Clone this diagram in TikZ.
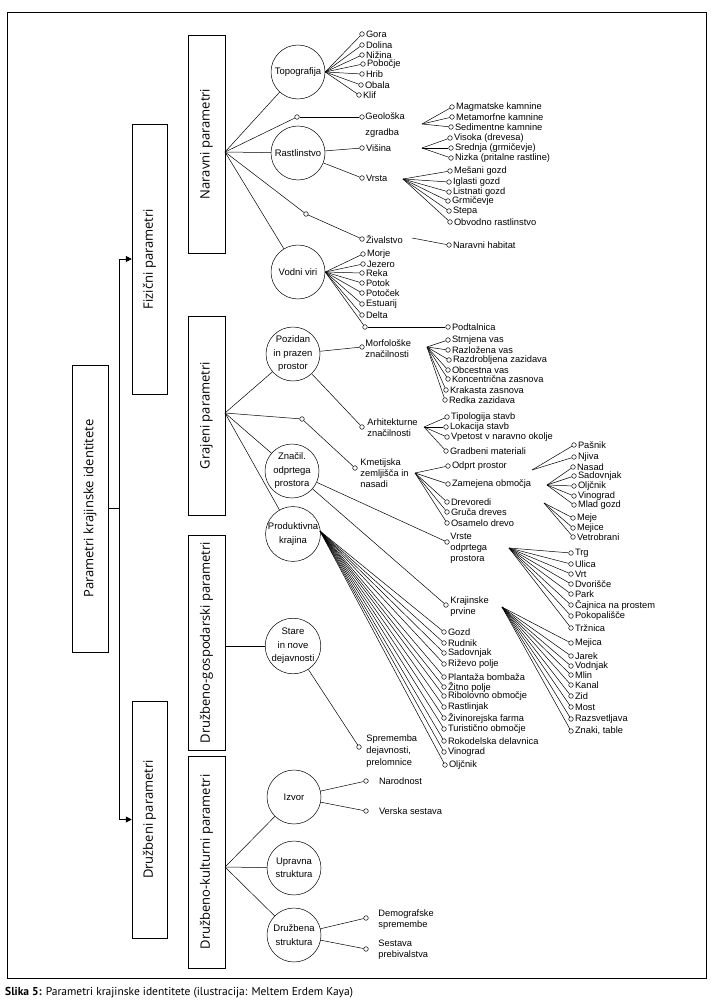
\documentclass[tikz,border=0pt]{standalone}
\usepackage{fontspec}
\setmainfont{Liberation Sans}
\newfontfamily\boxfont{Open Sans}
\newfontfamily\capfont{PT Sans}
\usetikzlibrary{arrows.meta}

\begin{document}
\begin{tikzpicture}[x=1pt,y=-1pt,line width=0.5pt]
\tikzset{
  pbox/.style={draw, rotate=90, inner sep=0pt, font=\boxfont\fontsize{13}{15}\selectfont},
  bigc/.style={circle, draw, minimum size=54, inner sep=0pt, align=center, font=\fontsize{9.5}{13.5}\selectfont},
  dot/.style={circle, draw, fill=white, inner sep=0pt, minimum size=4.6},
  lbl/.style={inner sep=1.2pt, align=left, font=\fontsize{9.3}{11}\selectfont},
  item/.style={dot, label={[lbl]east:#1}},
  faritem/.style={dot, label={[lbl, label distance=9pt]east:#1}}
}
\useasboundingbox (0,0) rectangle (717,1006);
\draw (7,12) rectangle (706,978);
\node[pbox, minimum width=287, minimum height=36] (kraj) at (90,508.5) {Parametri krajinske identitete};
\node[pbox, minimum width=270, minimum height=35] (fiz) at (149.5,259) {Fizični parametri};
\node[pbox, minimum width=237, minimum height=35] (druz) at (149.5,819.5) {Družbeni parametri};
\node[pbox, minimum width=218, minimum height=37] (nar) at (206.5,144) {Naravni parametri};
\node[pbox, minimum width=199, minimum height=37] (graj) at (206.5,415.5) {Grajeni parametri};
\node[pbox, minimum width=215, minimum height=37] (gosp) at (206.5,642.5) {Družbeno-gospodarski parametri};
\node[pbox, minimum width=212, minimum height=37] (kult) at (206.5,862) {Družbeno-kulturni parametri};
\coordinate (split) at (119,508.5);
\draw (kraj.south) -- (split);
\draw[-{Triangle[length=6pt,width=6pt]}] (split) |- (fiz.north);
\draw[-{Triangle[length=6pt,width=6pt]}] (split) |- (druz.north);
% naravni
\coordinate (narF) at (225,152);
\node[bigc] (topo) at (298,72) {Topografija};
\node[bigc] (rast) at (298,153) {Rastlinstvo};
\node[bigc] (vodni) at (298,272) {Vodni viri};
\node[dot] (geo0) at (297,117) {};
\node[dot] (ziv0) at (306,214) {};
\draw (narF) -- (topo);
\draw (narF) -- (geo0);
\draw (narF) -- (rast);
\draw (narF) -- (ziv0);
\draw (narF) -- (vodni);
\node[item=Gora] (gora) at (362,34) {};
\node[item=Dolina] (dolina) at (362,45) {};
\node[item=Nižina] (nizina) at (362,55) {};
\node[item=Pobočje] (pobocje) at (363,64) {};
\node[item=Hrib] (hrib) at (362,74) {};
\node[item=Obala] (obala) at (361,85) {};
\node[item=Klif] (klif) at (359,95) {};
\draw (topo.east) -- (gora);
\draw (topo.east) -- (dolina);
\draw (topo.east) -- (nizina);
\draw (topo.east) -- (pobocje);
\draw (topo.east) -- (hrib);
\draw (topo.east) -- (obala);
\draw (topo.east) -- (klif);
\node[dot] (geo) at (362,117) {};
\node[lbl, anchor=west] (geoT) at (364,125) {Geološka\\[5pt]zgradba};
\draw (geo0) -- (geo);
\coordinate (geoF) at (422,124);
\node[item=Magmatske kamnine] (magm) at (452,107) {};
\node[item=Metamorfne kamnine] (meta) at (452,117) {};
\node[item=Sedimentne kamnine] (sedi) at (451,127) {};
\draw (geoF) -- (magm);
\draw (geoF) -- (meta);
\draw (geoF) -- (sedi);
\node[item=Višina] (visina) at (362,148) {};
\node[item=Vrsta] (vrsta) at (362,178) {};
\draw (rast) -- (visina);
\draw (rast) -- (vrsta);
\coordinate (visF) at (422,148);
\node[item=Visoka (drevesa)] (visoka) at (450,138) {};
\node[item=Srednja (grmičevje)] (srednja) at (451,148) {};
\node[item=Nizka (pritalne rastline)] (nizka) at (451,158) {};
\draw (visF) -- (visoka);
\draw (visF) -- (srednja);
\draw (visF) -- (nizka);
\coordinate (vrsF) at (403,179);
\node[item=Mešani gozd] (mesani) at (450,171) {};
\node[item=Iglasti gozd] (iglasti) at (449,182) {};
\node[item=Listnati gozd] (listnati) at (449,192) {};
\node[item=Grmičevje] (grmicevje) at (448,201) {};
\node[item=Stepa] (stepa) at (449,211) {};
\node[item=Obvodno rastlinstvo] (obvodno) at (450,222) {};
\draw (vrsF) -- (mesani);
\draw (vrsF) -- (iglasti);
\draw (vrsF) -- (listnati);
\draw (vrsF) -- (grmicevje);
\draw (vrsF) -- (stepa);
\draw (vrsF) -- (obvodno);
\node[item=Živalstvo] (ziv) at (362,239) {};
\draw (ziv0) -- (ziv);
\coordinate (zivF) at (412,238);
\node[item=Naravni habitat] (habitat) at (449,245) {};
\draw (zivF) -- (habitat);
\node[item=Morje] (morje) at (363,254) {};
\node[item=Jezero] (jezero) at (363,264) {};
\node[item=Reka] (reka) at (362,273) {};
\node[item=Potok] (potok) at (362,283) {};
\node[item=Potoček] (potocek) at (362,293) {};
\node[item=Estuarij] (estuarij) at (362,304) {};
\node[item=Delta] (delta) at (362,315) {};
\node[dot] (pod0) at (365,327) {};
\node[item=Podtalnica] (podt) at (448,327) {};
\draw (vodni.east) -- (morje);
\draw (vodni.east) -- (jezero);
\draw (vodni.east) -- (reka);
\draw (vodni.east) -- (potok);
\draw (vodni.east) -- (potocek);
\draw (vodni.east) -- (estuarij);
\draw (vodni.east) -- (delta);
\draw (vodni.east) -- (pod0);
\draw (pod0) -- (podt);
% grajeni
\coordinate (grajF) at (225,413);
\node[bigc] (pozidan) at (293,354) {Pozidan\\in prazen\\prostor};
\node[dot] (kmet0) at (302,419) {};
\node[bigc] (znacil) at (292,471) {Značil.\\odprtega\\prostora};
\node[bigc] (prod) at (293,534) {Produktivna\\krajina};
\draw (grajF) -- (pozidan);
\draw (grajF) -- (kmet0);
\draw (grajF) -- (znacil);
\draw (grajF) -- (prod);
\node[dot] (morf) at (362,347) {};
\node[lbl, anchor=west] (morfT) at (364,349) {Morfološke\\značilnosti};
\node[dot] (arh) at (362,427) {};
\node[lbl, anchor=west] (arhT) at (366,428) {Arhitekturne\\značilnosti};
\node[dot] (kmet) at (355,468) {};
\node[lbl, anchor=west] (kmetT) at (359,473) {Kmetijska\\zemljišča in\\nasadi};
\draw (pozidan) -- (morf);
\draw (pozidan) -- (arh);
\draw (kmet0) -- (kmet);
\coordinate (morfF) at (427,347);
\node[item=Strnjena vas] (strnjena) at (448,340) {};
\node[item=Razložena vas] (razlozena) at (448,350) {};
\node[item=Razdrobljena zazidava] (razdrob) at (449,360) {};
\node[item=Obcestna vas] (obcestna) at (448,370) {};
\node[item=Koncentrična zasnova] (koncent) at (448,379) {};
\node[item=Krakasta zasnova] (krakasta) at (446,390) {};
\node[item=Redka zazidava] (redka) at (445,400) {};
\draw (morfF) -- (strnjena);
\draw (morfF) -- (razlozena);
\draw (morfF) -- (razdrob);
\draw (morfF) -- (obcestna);
\draw (morfF) -- (koncent);
\draw (morfF) -- (krakasta);
\draw (morfF) -- (redka);
\coordinate (arhF) at (424,427);
\node[item=Tipologija stavb] (tipol) at (447,417) {};
\node[item=Lokacija stavb] (lokac) at (446,427) {};
\node[item=Vpetost v naravno okolje] (vpetost) at (447,437) {};
\node[item=Gradbeni materiali] (gradb) at (446,451) {};
\draw (arhF) -- (tipol);
\draw (arhF) -- (lokac);
\draw (arhF) -- (vpetost);
\draw (arhF) -- (gradb);
\coordinate (kmetF) at (415,473);
\node[item=Odprt prostor] (odprt) at (448,466) {};
\node[item=Zamejena območja] (zamej) at (448,484) {};
\node[item=Drevoredi] (drevor) at (447,502) {};
\node[item=Gruča dreves] (gruca) at (447,512) {};
\node[item=Osamelo drevo] (osamelo) at (447,523) {};
\draw (kmetF) -- (odprt);
\draw (kmetF) -- (zamej);
\draw (kmetF) -- (drevor);
\draw (kmetF) -- (gruca);
\draw (kmetF) -- (osamelo);
\coordinate (odprtF) at (532,470);
\node[item=Pašnik] (pasnik) at (574,445) {};
\node[item=Njiva] (njiva) at (574,457) {};
\draw (odprtF) -- (pasnik);
\draw (odprtF) -- (njiva);
\coordinate (zamF) at (547,485);
\node[item=Nasad] (nasad) at (573,467) {};
\node[item=Sadovnjak] (sadov) at (574,476) {};
\node[item=Oljčnik] (oljcnik) at (574,486) {};
\node[item=Vinograd] (vinog) at (574,496) {};
\node[item=Mlad gozd] (mlad) at (574,505) {};
\draw (zamF) -- (nasad);
\draw (zamF) -- (sadov);
\draw (zamF) -- (oljcnik);
\draw (zamF) -- (vinog);
\draw (zamF) -- (mlad);
\coordinate (drevF) at (544,503);
\node[item=Meje] (meje) at (573,518) {};
\node[item=Mejice] (mejice) at (573,528) {};
\node[item=Vetrobrani] (vetrob) at (573,537) {};
\draw (drevF) -- (meje);
\draw (drevF) -- (mejice);
\draw (drevF) -- (vetrob);
\node[dot] (vrste) at (447,542) {};
\node[lbl, anchor=west] (vrsteT) at (449,548) {Vrste\\odprtega\\prostora};
\node[dot] (krajp) at (446,605) {};
\node[lbl, anchor=west] (krajpT) at (449,607) {Krajinske\\prvine};
\draw (znacil) -- (vrste);
\draw (znacil) -- (krajp);
\coordinate (vrsteF) at (509,548);
\node[item=Trg] (trg) at (571,553) {};
\node[item=Ulica] (ulica) at (571,564) {};
\node[item=Vrt] (vrt) at (571,574) {};
\node[item=Dvorišče] (dvorisce) at (571,584) {};
\node[item=Park] (park) at (571,594) {};
\node[item=Čajnica na prostem] (cajnica) at (571,605) {};
\node[item=Pokopališče] (pokop) at (571,616) {};
\node[item=Tržnica] (trznica) at (571,628) {};
\draw (vrsteF) -- (trg);
\draw (vrsteF) -- (ulica);
\draw (vrsteF) -- (vrt);
\draw (vrsteF) -- (dvorisce);
\draw (vrsteF) -- (park);
\draw (vrsteF) -- (cajnica);
\draw (vrsteF) -- (pokop);
\draw (vrsteF) -- (trznica);
\coordinate (krajpF) at (502,607);
\node[item=Mejica] (mejica) at (571,643) {};
\node[item=Jarek] (jarek) at (571,656) {};
\node[item=Vodnjak] (vodnjak) at (571,666) {};
\node[item=Mlin] (mlin) at (571,675) {};
\node[item=Kanal] (kanal) at (571,685) {};
\node[item=Zid] (zid) at (571,696) {};
\node[item=Most] (most) at (571,707) {};
\node[item=Razsvetljava] (razsvet) at (571,719) {};
\node[item={Znaki, table}] (znaki) at (571,731) {};
\draw (krajpF) -- (mejica);
\draw (krajpF) -- (jarek);
\draw (krajpF) -- (vodnjak);
\draw (krajpF) -- (mlin);
\draw (krajpF) -- (kanal);
\draw (krajpF) -- (zid);
\draw (krajpF) -- (most);
\draw (krajpF) -- (razsvet);
\draw (krajpF) -- (znaki);
\coordinate (prodF) at (320,531);
\node[item=Gozd] (gozd) at (444,632) {};
\node[item=Rudnik] (rudnik) at (444,643) {};
\node[item=Sadovnjak] (sadov2) at (444,653) {};
\node[item=Riževo polje] (rizevo) at (444,664) {};
\node[item=Plantaža bombaža] (plantaza) at (444,677) {};
\node[item=Žitno polje] (zitno) at (444,687) {};
\node[item=Ribolovno območje] (ribol) at (444,696) {};
\node[item=Rastlinjak] (rastlinjak) at (444,707) {};
\node[item=Živinorejska farma] (zivino) at (444,718) {};
\node[item=Turistično območje] (turist) at (444,729) {};
\node[item=Rokodelska delavnica] (rokod) at (444,741) {};
\node[item=Vinograd] (vinog2) at (444,752) {};
\node[item=Oljčnik] (oljcnik2) at (445,765) {};
\draw (prodF) -- (gozd);
\draw (prodF) -- (rudnik);
\draw (prodF) -- (sadov2);
\draw (prodF) -- (rizevo);
\draw (prodF) -- (plantaza);
\draw (prodF) -- (zitno);
\draw (prodF) -- (ribol);
\draw (prodF) -- (rastlinjak);
\draw (prodF) -- (zivino);
\draw (prodF) -- (turist);
\draw (prodF) -- (rokod);
\draw (prodF) -- (vinog2);
\draw (prodF) -- (oljcnik2);
% gospodarski
\node[bigc] (stare) at (293,646) {Stare\\in nove\\dejavnosti};
\draw (gosp.south |- stare) -- (stare);
\node[dot] (sprem) at (359,747) {};
\node[lbl, anchor=west, font=\fontsize{9.3}{12}\selectfont] (spremT) at (365,751) {Sprememba\\dejavnosti,\\prelomnice};
\draw (stare) -- (sprem);
% kulturni
\coordinate (kultF) at (225,867);
\node[bigc] (izvor) at (294,797) {Izvor};
\node[bigc] (upravna) at (294,868) {Upravna\\struktura};
\node[bigc] (druzbena) at (294,935) {Družbena\\struktura};
\draw (kultF) -- (izvor);
\draw (kultF) -- (upravna);
\draw (kultF) -- (druzbena);
\node[faritem=Narodnost] (narod) at (366,781) {};
\node[faritem=Verska sestava] (verska) at (366,811) {};
\draw (izvor) -- (narod);
\draw (izvor) -- (verska);
\node[dot] (demo) at (366,918) {};
\node[lbl, anchor=west] (demoT) at (377,920) {Demografske\\spremembe};
\node[dot] (sestava) at (366,949) {};
\node[lbl, anchor=west] (sestT) at (377,950) {Sestava\\prebivalstva};
\draw (druzbena) -- (demo);
\draw (druzbena) -- (sestava);
\node[anchor=base west, inner sep=0pt, font=\capfont\fontsize{11.5}{13}\selectfont] (cap) at (5,995) {\textbf{Slika 5:} Parametri krajinske identitete (ilustracija: Meltem Erdem Kaya)};
\end{tikzpicture}
\end{document}
